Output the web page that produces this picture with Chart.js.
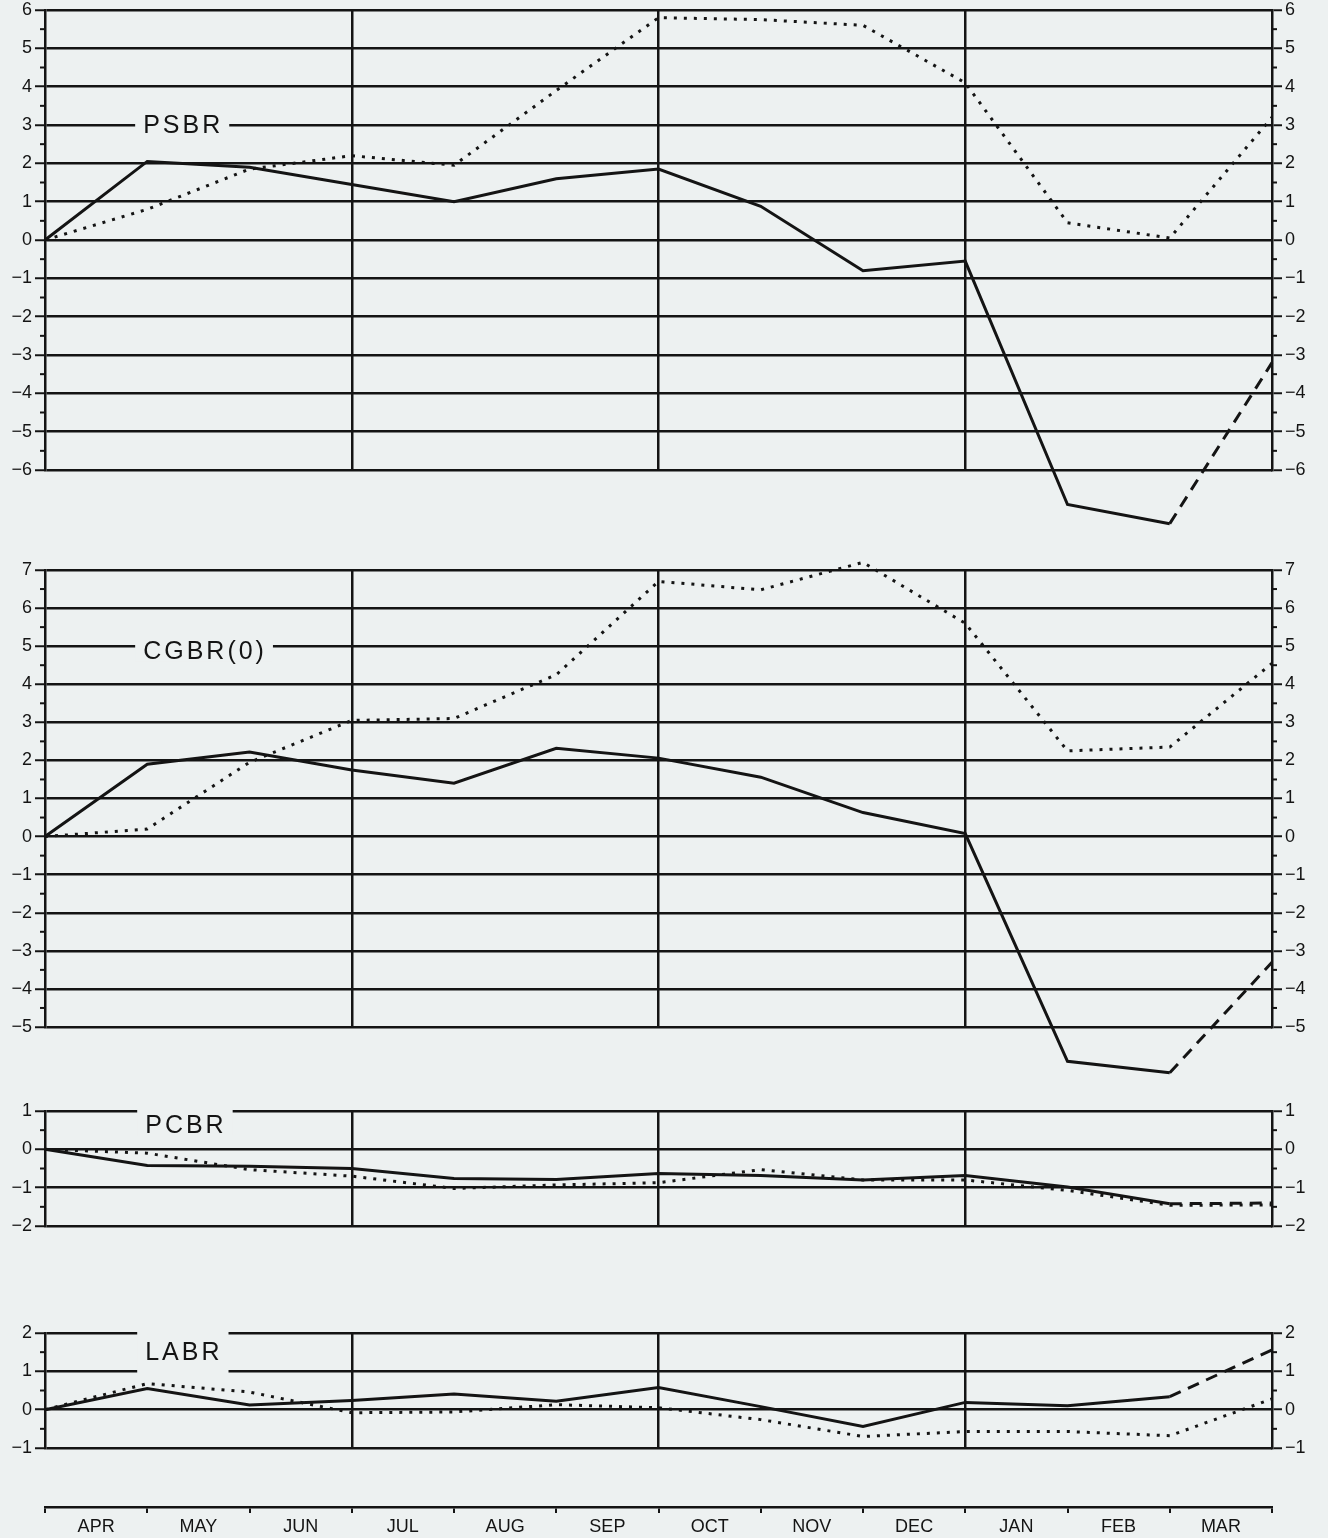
<!DOCTYPE html>
<html>
<head>
<meta charset="utf-8">
<script src="https://cdn.jsdelivr.net/npm/chart.js"></script>
<style>
  html, body { margin: 0; padding: 0; background: #edf1f1; width: 1328px; height: 1538px; overflow: hidden; }
  canvas { position: absolute; left: 0; }
</style>
</head>
<body>
<canvas id="psbr" width="1328" height="550" style="top:-10px"></canvas>
<canvas id="cgbr" width="1328" height="547" style="top:550px"></canvas>
<canvas id="pcbr" width="1328" height="155" style="top:1091px"></canvas>
<canvas id="labr" width="1328" height="155" style="top:1313px"></canvas>
<canvas id="months" width="1328" height="41" style="top:1497px"></canvas>
<script>
const ink = '#141414'
const paper = '#edf1f1'

const months = ['APR', 'MAY', 'JUN', 'JUL', 'AUG', 'SEP', 'OCT', 'NOV', 'DEC', 'JAN', 'FEB', 'MAR']

// cumulative values at month boundaries (start of APR, then end of each month)
// solid = outturn, dotted = other path; last solid step is drawn dashed
const psbrSolid  = [0, 2.05, 1.9, 1.45, 1.0, 1.6, 1.85, 0.88, -0.8, -0.55, -6.9, -7.4, -3.2]
const psbrDotted = [0, 0.8, 1.85, 2.2, 1.95, 3.9, 5.8, 5.75, 5.6, 4.1, 0.45, 0.05, 3.2]

const cgbrSolid  = [0, 1.9, 2.22, 1.75, 1.4, 2.32, 2.06, 1.56, 0.63, 0.08, -5.9, -6.2, -3.3]
const cgbrDotted = [0, 0.2, 1.95, 3.05, 3.1, 4.25, 6.7, 6.48, 7.2, 5.6, 2.25, 2.35, 4.55]

const pcbrSolid  = [0, -0.42, -0.44, -0.5, -0.76, -0.79, -0.63, -0.68, -0.8, -0.68, -0.98, -1.42, -1.4]
const pcbrDotted = [0, -0.1, -0.53, -0.7, -1.02, -0.93, -0.87, -0.53, -0.8, -0.8, -1.07, -1.46, -1.45]

const labrSolid  = [0, 0.55, 0.12, 0.24, 0.41, 0.22, 0.58, 0.08, -0.44, 0.19, 0.1, 0.34, 1.56]
const labrDotted = [0, 0.68, 0.46, -0.08, -0.06, 0.13, 0.05, -0.26, -0.7, -0.57, -0.57, -0.68, 0.28]

const quarterLines = [3, 6, 9]

const tickFont = { family: '"Liberation Sans", Arial, sans-serif', size: 18 }

const fmt = v => v < 0 ? '\u2212' + Math.abs(v) : String(v)
const pts = arr => arr.map((v, i) => ({ x: i, y: v }))

// panel name written over the grid, with the grid cleared behind it
const panelTitle = {
  id: 'panelTitle',
  beforeDatasetsDraw(chart, args, opts) {
    if (!opts.text) return
    const { ctx, scales: { x, y } } = chart
    ctx.save()
    ctx.font = '25px "Liberation Sans", Arial, sans-serif'
    ctx.letterSpacing = '3px'
    const left = x.getPixelForValue(opts.at)
    const w = ctx.measureText(opts.text).width
    const top = y.getPixelForValue(opts.gapTop)
    const bottom = y.getPixelForValue(opts.gapBottom)
    ctx.fillStyle = paper
    ctx.fillRect(left - 8, top, w + 14, bottom - top)
    ctx.fillStyle = ink
    ctx.textBaseline = 'middle'
    ctx.fillText(opts.text, left, y.getPixelForValue(opts.y))
    ctx.restore()
  }
}

// short half-unit ticks on both value axes
const minorTicks = {
  id: 'minorTicks',
  afterDraw(chart) {
    const { ctx } = chart
    ctx.save()
    ctx.strokeStyle = ink
    ctx.lineWidth = 2
    for (const id of ['y', 'y2']) {
      const s = chart.scales[id]
      if (!s) continue
      const x0 = id === 'y' ? s.right : s.left
      const dir = id === 'y' ? -1 : 1
      for (let v = s.min + 0.5; v < s.max; v += 1) {
        const py = s.getPixelForValue(v)
        ctx.beginPath()
        ctx.moveTo(x0, py)
        ctx.lineTo(x0 + dir * 5, py)
        ctx.stroke()
      }
    }
    ctx.restore()
  }
}

function valueAxis(min, max, pos) {
  return {
    position: pos,
    min, max,
    ticks: { stepSize: 1, color: ink, font: tickFont, padding: 3, callback: fmt },
    grid: { color: ink, lineWidth: 2.5, tickLength: 10, tickWidth: 2, drawOnChartArea: pos === 'left' },
    border: { color: ink, width: 2.5 },
    afterFit: s => { s.width = pos === 'left' ? 45 : 56 }
  }
}

function panel(id, solid, dotted, min, max, title, padBottom) {
  const last = solid.length - 1
  return new Chart(document.getElementById(id), {
    type: 'line',
    data: {
      datasets: [{
        data: pts(solid),
        borderColor: ink,
        borderWidth: 3,
        pointRadius: 0,
        tension: 0,
        clip: false,
        segment: { borderDash: c => c.p1DataIndex === last ? [12, 8] : undefined }
      }, {
        data: pts(dotted),
        borderColor: ink,
        borderWidth: 3,
        borderDash: [3, 7],
        pointRadius: 0,
        tension: 0,
        clip: false
      }]
    },
    options: {
      responsive: false,
      devicePixelRatio: 1,
      animation: false,
      layout: { padding: { top: 20, bottom: padBottom, left: 0, right: 0 } },
      scales: {
        x: {
          type: 'linear', min: 0, max: 12,
          ticks: { stepSize: 1, display: false },
          grid: {
            color: c => quarterLines.includes(c.tick.value) ? ink : 'transparent',
            lineWidth: 2.5, drawTicks: false
          },
          border: { display: false },
          afterFit: s => { s.height = 0 }
        },
        y: valueAxis(min, max, 'left'),
        y2: valueAxis(min, max, 'right')
      },
      plugins: {
        legend: { display: false },
        tooltip: { enabled: false },
        panelTitle: title
      }
    },
    plugins: [panelTitle, minorTicks]
  })
}

panel('psbr', psbrSolid, psbrDotted, -6, 6,
  { text: 'PSBR', at: 0.96, y: 2.98, gapTop: 3.15, gapBottom: 2.85 }, 70)
panel('cgbr', cgbrSolid, cgbrDotted, -5, 7,
  { text: 'CGBR(0)', at: 0.96, y: 4.85, gapTop: 5.15, gapBottom: 4.6 }, 70)
panel('pcbr', pcbrSolid, pcbrDotted, -2, 1,
  { text: 'PCBR', at: 0.98, y: 0.6, gapTop: 1.1, gapBottom: 0.35 }, 20)
panel('labr', labrSolid, labrDotted, -1, 2,
  { text: 'LABR', at: 0.98, y: 1.47, gapTop: 2.1, gapBottom: 0.9 }, 20)

// month axis along the bottom
new Chart(document.getElementById('months'), {
  type: 'line',
  data: { labels: months, datasets: [] },
  options: {
    responsive: false,
    devicePixelRatio: 1,
    animation: false,
    layout: { padding: { top: 0, bottom: 0, left: 45, right: 56 } },
    scales: {
      x: {
        type: 'category',
        offset: true,
        grid: { offset: true, drawOnChartArea: false, color: ink, tickLength: 6, lineWidth: 2 },
        border: { display: true, color: ink, width: 2.5 },
        ticks: { color: ink, font: { family: '"Liberation Sans", Arial, sans-serif', size: 18 }, padding: 3, maxRotation: 0, autoSkip: false },
        afterFit: s => { s.height = 31 }
      },
      y: { display: false }
    },
    plugins: { legend: { display: false }, tooltip: { enabled: false } }
  }
})
</script>
</body>
</html>
